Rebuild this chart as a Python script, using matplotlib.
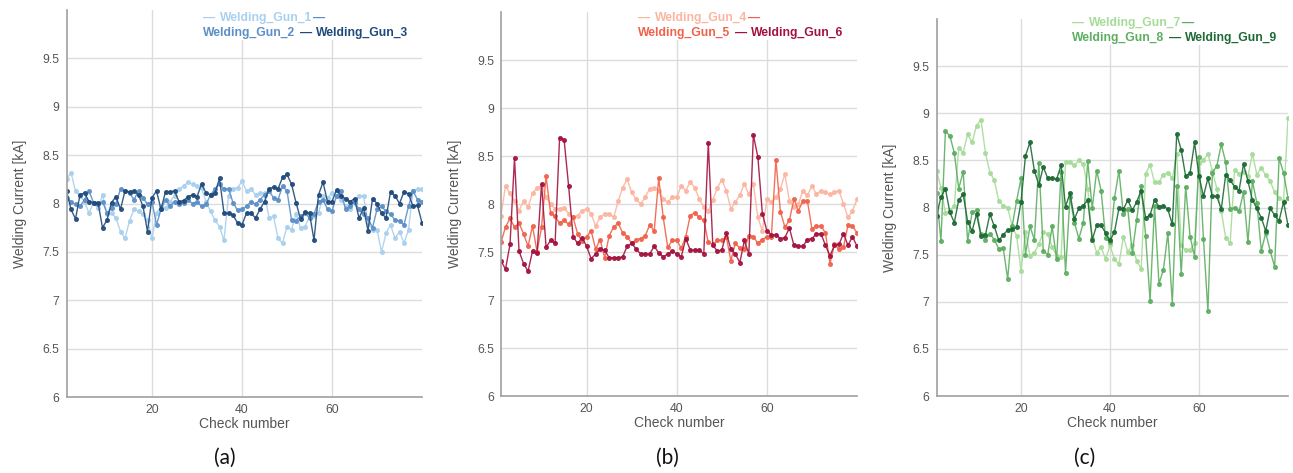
import numpy as np
import matplotlib.pyplot as plt

plt.rcParams['font.family'] = ['Liberation Sans', 'DejaVu Sans']

checks = np.arange(1, 81)

# panel (a)
gun_1 = [8.25, 8.32, 8.13, 8.08, 8.02, 7.9, 8.01, 7.95, 8.09, 7.89, 7.9, 7.85, 7.71, 7.64, 7.82, 7.94, 7.92, 7.89, 7.83, 7.64,
         7.9, 7.97, 7.95, 8.02, 8.08, 8.15, 8.18, 8.22, 8.2, 8.18, 8.16, 8.02, 7.92, 7.83, 7.76, 7.62, 8.08, 8.15, 8.16, 8.23,
         8.13, 8.15, 8.09, 8.11, 8.11, 7.85, 7.87, 7.64, 7.59, 7.76, 7.73, 7.89, 7.75, 7.76, 7.87, 7.87, 7.9, 8.08, 8.06, 8.11,
         8.08, 8.04, 7.97, 7.94, 8.01, 8.08, 8.08, 7.8, 7.73, 7.73, 7.5, 7.69, 7.78, 7.64, 7.71, 7.59, 7.73, 8.13, 8.15, 8.15]
gun_2 = [8.06, 8.02, 7.99, 7.97, 8.04, 8.13, 8.01, 7.99, 8.02, 7.9, 7.95, 8.0, 8.15, 8.13, 8.11, 8.04, 8.13, 8.06, 7.99, 8.02,
         7.78, 7.94, 8.04, 7.97, 8.02, 7.99, 8.01, 8.04, 8.0, 8.02, 7.97, 7.99, 8.09, 8.15, 8.2, 8.15, 8.15, 8.01, 7.93, 7.94,
         7.97, 8.02, 7.99, 8.04, 8.09, 8.13, 8.06, 8.04, 8.18, 8.13, 7.83, 7.82, 7.87, 7.9, 7.85, 7.89, 8.02, 8.04, 7.94, 7.92,
         8.08, 8.13, 7.94, 7.97, 8.02, 7.94, 7.89, 7.85, 7.75, 7.94, 7.97, 7.92, 7.89, 7.83, 7.82, 7.78, 7.97, 8.13, 8.04, 8.02]
gun_3 = [8.13, 7.94, 7.84, 8.09, 8.11, 8.02, 8.01, 8.01, 7.75, 7.83, 8.01, 8.07, 7.94, 8.13, 8.12, 8.13, 8.09, 7.97, 7.71, 8.06,
         8.13, 7.94, 8.12, 8.12, 8.13, 8.02, 8.03, 8.07, 8.09, 8.07, 8.2, 8.11, 8.09, 8.11, 8.26, 7.9, 7.9, 7.88, 7.8, 7.78,
         7.9, 7.9, 7.85, 7.94, 8.02, 8.15, 8.17, 8.15, 8.27, 8.3, 8.2, 8.01, 7.84, 7.91, 7.9, 7.62, 8.09, 8.22, 8.02, 8.02,
         8.14, 8.08, 8.05, 8.02, 8.05, 7.85, 7.95, 7.72, 8.05, 8.0, 7.9, 7.85, 8.12, 8.08, 8.0, 8.12, 8.1, 7.97, 7.98, 7.8]

# panel (b)
gun_4 = [7.88, 8.19, 8.11, 8.03, 7.93, 8.03, 7.97, 8.11, 8.17, 8.19, 8.07, 8.0, 7.95, 7.95, 7.96, 7.9, 7.86, 7.88, 7.93, 7.95,
         7.9, 7.77, 7.86, 7.9, 7.9, 7.86, 8.03, 8.17, 8.26, 8.12, 8.05, 8.0, 8.07, 8.16, 8.17, 8.14, 8.05, 8.02, 8.07, 8.07,
         8.19, 8.14, 8.23, 8.17, 8.05, 7.97, 7.93, 8.04, 8.17, 8.25, 8.14, 7.95, 8.02, 8.09, 8.21, 8.1, 8.21, 7.86, 7.72, 8.05,
         8.02, 8.07, 8.16, 8.31, 8.03, 7.97, 8.0, 8.14, 8.09, 8.19, 8.1, 8.14, 8.12, 8.1, 8.12, 8.14, 8.0, 7.86, 7.93, 8.05]
gun_5 = [7.6, 7.76, 7.85, 7.76, 7.8, 7.69, 7.56, 7.77, 7.5, 7.76, 8.29, 7.91, 7.87, 7.8, 7.83, 7.79, 7.86, 7.69, 7.61, 7.66,
         7.72, 7.53, 7.63, 7.44, 7.67, 7.76, 7.8, 7.7, 7.66, 7.59, 7.63, 7.64, 7.67, 7.78, 7.72, 8.27, 7.86, 7.55, 7.62, 7.62,
         7.54, 7.66, 7.88, 7.91, 7.86, 7.83, 7.6, 7.58, 7.62, 7.62, 7.66, 7.41, 7.59, 7.54, 7.53, 7.67, 7.66, 7.59, 7.63, 7.66,
         7.66, 8.46, 7.92, 7.76, 7.83, 8.05, 7.93, 8.03, 8.03, 7.74, 7.77, 7.77, 7.7, 7.38, 7.58, 7.53, 7.55, 7.78, 7.77, 7.7]
gun_6 = [7.41, 7.32, 7.58, 8.48, 7.51, 7.38, 7.3, 7.51, 7.49, 8.21, 7.55, 7.62, 7.59, 8.69, 8.67, 8.19, 7.66, 7.59, 7.65, 7.56,
         7.43, 7.48, 7.53, 7.52, 7.44, 7.44, 7.44, 7.45, 7.56, 7.59, 7.53, 7.48, 7.48, 7.48, 7.56, 7.49, 7.45, 7.48, 7.51, 7.48,
         7.45, 7.64, 7.52, 7.52, 7.52, 7.48, 8.64, 7.57, 7.51, 7.52, 7.7, 7.53, 7.48, 7.39, 7.62, 7.48, 8.72, 8.49, 7.9, 7.72,
         7.68, 7.68, 7.64, 7.65, 7.75, 7.57, 7.56, 7.56, 7.63, 7.64, 7.69, 7.69, 7.57, 7.46, 7.57, 7.58, 7.69, 7.57, 7.66, 7.56]

# panel (c)
gun_7 = [8.39, 8.21, 7.94, 7.97, 8.02, 8.63, 8.58, 8.78, 8.69, 8.87, 8.93, 8.58, 8.37, 8.29, 8.07, 8.02, 8.0, 7.8, 7.7, 7.33,
         7.74, 7.49, 7.52, 7.61, 7.74, 7.72, 7.58, 7.49, 7.47, 8.48, 8.48, 8.45, 8.5, 8.46, 8.2, 7.68, 7.52, 7.58, 7.45, 7.6,
         7.45, 7.4, 7.69, 7.53, 7.6, 7.43, 7.35, 8.36, 8.45, 8.27, 8.27, 8.35, 8.37, 8.31, 8.57, 7.6, 7.55, 7.55, 7.62, 8.47,
         8.5, 8.57, 8.39, 8.2, 7.96, 7.68, 7.62, 8.4, 8.36, 8.38, 8.33, 8.57, 8.35, 8.42, 8.34, 8.28, 8.16, 8.1, 8.07, 8.95]
gun_8 = [8.15, 7.64, 8.81, 8.76, 8.58, 8.2, 8.38, 7.64, 7.95, 7.97, 7.72, 7.66, 7.72, 7.66, 7.56, 7.57, 7.24, 7.8, 8.07, 8.31,
         7.5, 7.8, 7.66, 8.47, 7.54, 7.5, 7.8, 7.45, 8.38, 7.31, 8.11, 7.84, 7.67, 7.84, 8.49, 7.99, 8.39, 8.18, 7.68, 7.63,
         8.1, 8.39, 7.93, 7.98, 7.52, 7.87, 8.23, 7.7, 7.01, 8.02, 7.19, 7.34, 7.73, 6.98, 8.23, 7.29, 8.22, 7.69, 7.48, 8.54,
         7.67, 6.9, 8.37, 8.44, 8.67, 8.48, 7.98, 8.0, 7.96, 8.16, 7.63, 8.28, 8.05, 7.54, 7.73, 7.54, 7.37, 8.52, 8.37, 8.1]
gun_9 = [7.91, 8.11, 8.2, 7.95, 7.84, 8.08, 8.14, 7.85, 7.75, 7.93, 7.7, 7.71, 7.93, 7.8, 7.65, 7.71, 7.76, 7.77, 7.79, 8.06,
         8.55, 8.69, 8.39, 8.24, 8.43, 8.31, 8.31, 8.3, 8.45, 8.01, 8.15, 7.88, 7.99, 8.02, 8.08, 7.66, 7.81, 7.81, 7.73, 7.65,
         7.74, 7.99, 7.98, 8.08, 7.97, 8.06, 8.18, 7.89, 7.92, 8.08, 8.01, 8.02, 7.98, 7.82, 8.78, 8.61, 8.33, 8.37, 8.69, 8.33,
         8.12, 8.31, 8.12, 8.12, 7.98, 8.35, 8.29, 8.22, 8.18, 8.46, 8.28, 8.08, 7.99, 7.89, 7.75, 7.99, 7.92, 7.86, 8.06, 7.81]

labels_a = ['Welding_Gun_1', 'Welding_Gun_2', 'Welding_Gun_3']
labels_b = ['Welding_Gun_4', 'Welding_Gun_5', 'Welding_Gun_6']
labels_c = ['Welding_Gun_7', 'Welding_Gun_8', 'Welding_Gun_9']
colors_a = ['#a9d0ee', '#5b8fc7', '#1f4a7a']
colors_b = ['#fcb5a0', '#f0624a', '#a3123f']
colors_c = ['#a6dc9a', '#5cae60', '#1d6a35']

W, H = 1293, 473
fig = plt.figure(figsize=(W / 100, H / 100), dpi=100)


def px_axes(left, right, top, bottom):
    return fig.add_axes([left / W, 1 - bottom / H, (right - left) / W, (bottom - top) / H])


def draw_panel(ax, series, colors):
    for vals, c in zip(series, colors):
        ax.plot(checks, vals, color=c, lw=1.0, marker='o', ms=2.6, alpha=0.9)
    ax.set_xlim(1, 80)
    ax.set_ylim(6, 10)
    ax.set_xticks([20, 40, 60])
    yt = [6, 6.5, 7, 7.5, 8, 8.5, 9, 9.5]
    ax.set_yticks(yt)
    ax.set_yticklabels([f'{v:g}' for v in yt])
    ax.grid(True, color='#dcdcdc', lw=1)
    ax.set_axisbelow(True)
    for s in ['top', 'right']:
        ax.spines[s].set_visible(False)
    for s in ['left', 'bottom']:
        ax.spines[s].set_color('#a0a0a0')
        ax.spines[s].set_linewidth(1.2)
    ax.tick_params(length=0, labelsize=8.8, labelcolor='#555555', pad=5)
    ax.set_xlabel('Check number', fontsize=10, color='#555555', labelpad=1)
    ax.set_ylabel('Welding Current [kA]', fontsize=10, color='#555555', labelpad=11)


def legend(x0, y0, labels, colors):
    # blank white axes under the legend hides the gridlines, as in the original
    bg = px_axes(x0 - 3, x0 + 207, 0, y0 + 22)
    bg.set_xticks([])
    bg.set_yticks([])
    for s in bg.spines.values():
        s.set_visible(False)
    bg.set_facecolor('white')
    kw = dict(fontsize=8.7, fontweight='bold', va='center', ha='left', zorder=6)
    y1, y2 = 1 - y0 / H, 1 - (y0 + 15) / H
    fig.text(x0 / W, y1, '—', color=colors[0], **kw)
    fig.text((x0 + 17) / W, y1, labels[0], color=colors[0], **kw)
    fig.text((x0 + 110) / W, y1, '—', color=colors[1], **kw)
    fig.text(x0 / W, y2, labels[1], color=colors[1], **kw)
    fig.text((x0 + 97) / W, y2, '—', color=colors[2], **kw)
    fig.text((x0 + 113) / W, y2, labels[2], color=colors[2], **kw)


ax_a = px_axes(66.5, 422, 10, 397)
draw_panel(ax_a, [gun_1, gun_2, gun_3], colors_a)

ax_b = px_axes(501, 857, 12, 396)
draw_panel(ax_b, [gun_4, gun_5, gun_6], colors_b)

ax_c = px_axes(936.5, 1288, 19, 396)
draw_panel(ax_c, [gun_7, gun_8, gun_9], colors_c)

legend(203, 18, labels_a, colors_a)
legend(638, 18, labels_b, colors_b)
legend(1072, 23, labels_c, colors_c)

for x, t in [(225, '(a)'), (667, '(b)'), (1085, '(c)')]:
    fig.text(x / W, 1 - 458 / H, t, fontsize=15, family=['Lato', 'DejaVu Sans'],
             ha='center', va='center', color='#111111')

fig.savefig('out.png', dpi=100)
